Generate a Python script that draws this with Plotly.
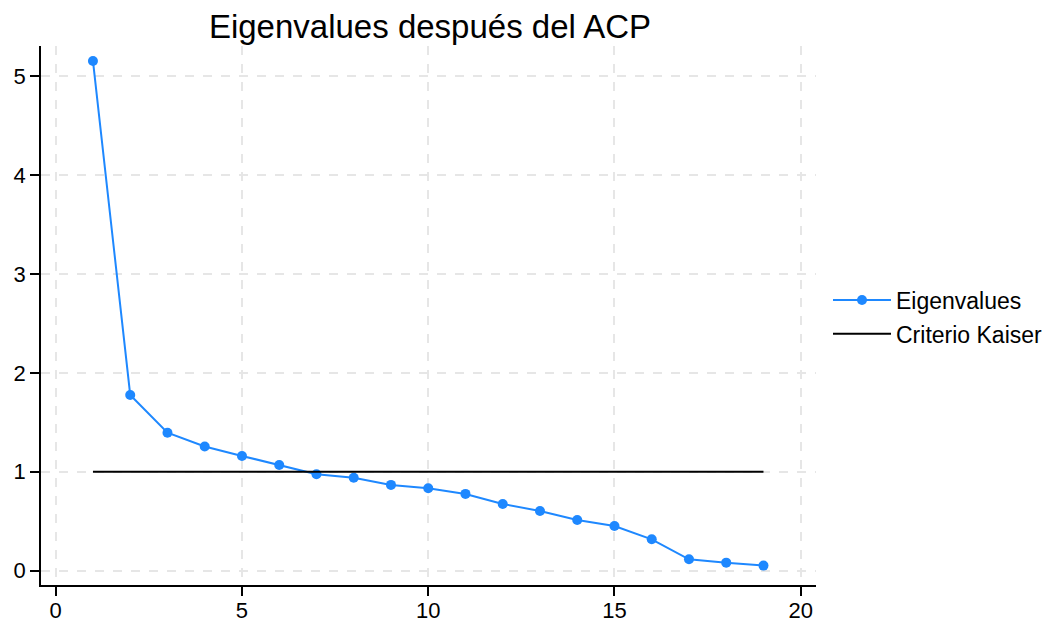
import plotly.graph_objects as go

components = list(range(1, 20))
eigenvalues = [5.154, 1.777, 1.395, 1.256, 1.16, 1.069, 0.975, 0.94, 0.867, 0.833,
               0.776, 0.674, 0.604, 0.513, 0.452, 0.317, 0.115, 0.081, 0.051]
kaiser_x = [1, 19]
kaiser_y = [1, 1]
x_ticks = [0, 5, 10, 15, 20]
y_ticks = [0, 1, 2, 3, 4, 5]

FONT = "Liberation Sans, Arial, Helvetica, sans-serif"

fig = go.Figure()
fig.add_trace(go.Scatter(
    x=components, y=eigenvalues, mode="lines+markers", name="Eigenvalues",
    legendgroup="a",
    line=dict(color="#1e88ff", width=2), marker=dict(color="#1e88ff", size=10),
))
fig.add_trace(go.Scatter(
    x=kaiser_x, y=kaiser_y, mode="lines", name="Criterio Kaiser",
    legendgroup="b",
    line=dict(color="black", width=2),
))

axis_common = dict(
    showgrid=True, gridcolor="#e6e6e6", griddash="dash", gridwidth=1.5,
    zeroline=False, showline=True, linecolor="black", linewidth=1.5,
    ticks="outside", ticklen=9, tickwidth=1.5, tickcolor="black",
    automargin=False,
    tickfont=dict(size=22, color="black", family=FONT),
)

fig.update_layout(
    template="none",
    width=1056, height=623,
    paper_bgcolor="white", plot_bgcolor="white",
    margin=dict(l=41, r=240, t=46, b=38, pad=0),
    title=dict(text="Eigenvalues después del ACP", x=430 / 1056, xanchor="center",
               y=1 - 26 / 623, yanchor="middle",
               font=dict(size=33, color="black", family=FONT)),
    xaxis=dict(range=[-0.395, 20.41], tickvals=x_ticks, ticklabelstandoff=-4,
               **axis_common),
    yaxis=dict(range=[-0.145, 5.305], tickvals=y_ticks, **axis_common),
    legend=dict(xref="container", yref="container",
                x=828 / 1056, xanchor="left", y=1 - 317 / 623, yanchor="middle",
                font=dict(size=23, color="black", family=FONT),
                itemwidth=58, bgcolor="rgba(0,0,0,0)",
                traceorder="grouped", tracegroupgap=1, borderwidth=0),
    showlegend=True,
)

fig.write_html("out.html")
